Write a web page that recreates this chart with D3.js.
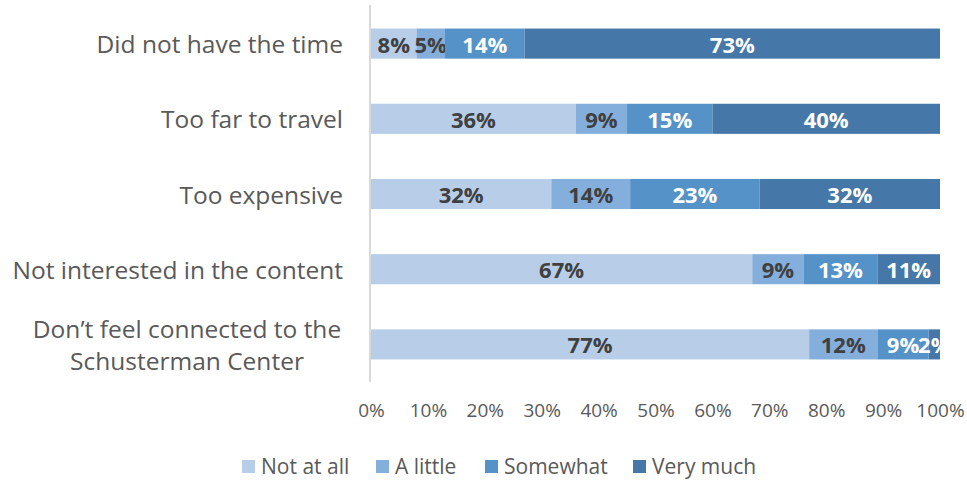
<!DOCTYPE html>
<html><head><meta charset="utf-8">
<script src="https://cdn.jsdelivr.net/npm/d3@7"></script>
<style>body{margin:0;background:#fff}svg{display:block}</style>
</head><body>
<svg id="c" width="967" height="481"></svg>
<script>
const categories = ["Did not have the time","Too far to travel","Too expensive","Not interested in the content","Don’t feel connected to the Schusterman Center"];
const seriesNames = ["Not at all","A little","Somewhat","Very much"];
const notAtAll = [8,36,32,67,77];
const aLittle  = [5,9,14,9,12];
const somewhat = [14,15,23,13,9];
const veryMuch = [73,40,32,11,2];
const tickValues = [0,10,20,30,40,50,60,70,80,90,100];
const colors = ["#B7CDE8","#84AEDB","#5592C8","#4577A8"];
const labelColors = ["#404040","#404040","#ffffff","#ffffff"];

const series = [notAtAll,aLittle,somewhat,veryMuch];
const svg = d3.select("#c");
const font = "'Open Sans', sans-serif";
const x = d3.scaleLinear().domain([0,100]).range([371,940]);
const y = d3.scaleBand().domain(categories).range([6,382]).paddingInner(0.6).paddingOuter(0.3);

svg.append("line").attr("x1",370).attr("x2",370).attr("y1",5).attr("y2",382)
  .attr("stroke","#d9d9d9").attr("stroke-width",2);

categories.forEach((c,i)=>{
  const vals = series.map(s=>s[i]);
  const total = d3.sum(vals);
  let cum = 0;
  vals.forEach((v,j)=>{
    const p0 = cum/total*100, p1 = (cum+v)/total*100;
    cum += v;
    svg.append("rect").attr("x",x(p0)).attr("y",y(c)).attr("width",x(p1)-x(p0)).attr("height",y.bandwidth())
      .attr("fill",colors[j]);
    svg.append("text").attr("x",(x(p0)+x(p1))/2).attr("y",y(c)+y.bandwidth()/2)
      .attr("text-anchor","middle").attr("dominant-baseline","central")
      .attr("font-family",font).attr("font-weight","bold").attr("font-size",22)
      .attr("fill",labelColors[j]).text(v+"%");
  });
});

categories.forEach((c,i)=>{
  const cy = y(c)+y.bandwidth()/2;
  if(i===4){
    const t = svg.append("text").attr("text-anchor","middle").attr("font-family",font).attr("font-size",24.5).attr("fill","#595959");
    t.append("tspan").attr("x",187).attr("y",cy-16).attr("dominant-baseline","central").text("Don’t feel connected to the");
    t.append("tspan").attr("x",187).attr("y",cy+16).attr("dominant-baseline","central").text("Schusterman Center");
  } else {
    svg.append("text").attr("x",343).attr("y",cy).attr("text-anchor","end").attr("dominant-baseline","central")
      .attr("font-family",font).attr("font-size",24.5).attr("fill","#595959").text(c);
  }
});

const ax = svg.append("g").attr("transform","translate(0,400)")
  .call(d3.axisBottom(x).tickValues(tickValues).tickFormat(d=>d+"%").tickSize(0).tickPadding(3));
ax.select(".domain").remove();
ax.selectAll("text").attr("font-family",font).attr("font-size",19).attr("fill","#595959");

const lx = [242,376,485,633];
seriesNames.forEach((n,j)=>{
  svg.append("rect").attr("x",lx[j]).attr("y",460).attr("width",13).attr("height",13).attr("fill",colors[j]);
  svg.append("text").attr("x",lx[j]+19).attr("y",466).attr("dominant-baseline","central")
    .attr("font-family",font).attr("font-size",21).attr("fill","#595959").text(n);
});
</script>
</body></html>
